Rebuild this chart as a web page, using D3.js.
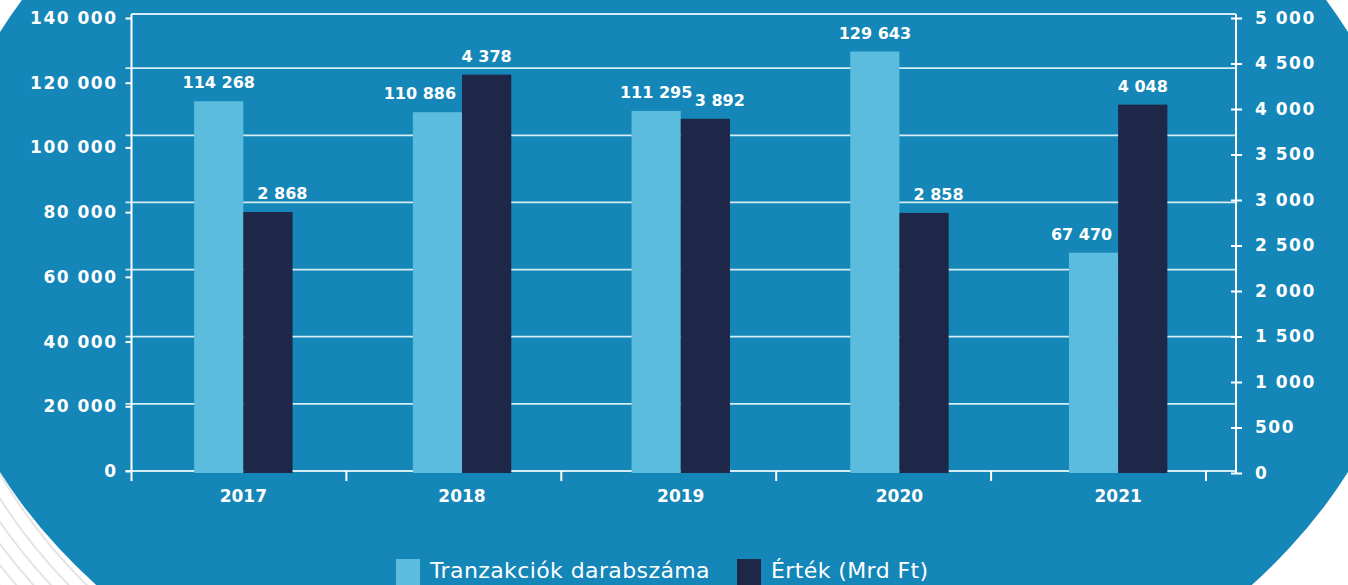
<!DOCTYPE html>
<html>
<head>
<meta charset="utf-8">
<script src="https://cdn.jsdelivr.net/npm/d3@7"></script>
<style>
  html, body { margin: 0; padding: 0; background: #fff; }
  svg { display: block; }
  text { fill: #fff; }
</style>
</head>
<body>
<div id="chart"></div>
<script>
const years = ["2017", "2018", "2019", "2020", "2021"];
const tranzakciok = [114268, 110886, 111295, 129643, 67470];
const ertek = [2868, 4378, 3892, 2858, 4048];
const leftTicks = [0, 20000, 40000, 60000, 80000, 100000, 120000, 140000];
const rightTicks = [0, 500, 1000, 1500, 2000, 2500, 3000, 3500, 4000, 4500, 5000];
const seriesNames = ["Tranzakciók darabszáma", "Érték (Mrd Ft)"];

const w = 1348;
const h = 585;
const blue = "#1486b7";
const light = "#5bbcdd";
const dark = "#1f2749";
const plotLeft = 131.5;
const plotRight = 1236;
const plotTop = 14;
const gridStep = 20750;
const boldFont = "'DejaVu Sans', sans-serif";

const hu = d3.formatLocale({ decimal: ",", thousands: "\u00a0", grouping: [3], currency: ["", ""] });
const fmt = hu.format(",");

const svg = d3
  .select("#chart")
  .append("svg")
  .attr("width", w)
  .attr("height", h);

// background: big blue ellipse, thin grey rings bottom left
const cx = 674, cy = 252, rx = 740, ry = 533;
svg.append("rect").attr("width", w).attr("height", h).attr("fill", "#fff");
svg.append("clipPath").attr("id", "corner")
  .append("rect").attr("x", 0).attr("y", 430).attr("width", 200).attr("height", 155);
svg.append("g")
  .attr("clip-path", "url(#corner)")
  .selectAll("ellipse")
  .data(d3.range(1, 9))
  .enter()
  .append("ellipse")
  .attr("cx", cx + 20)
  .attr("cy", cy + 10)
  .attr("rx", (d) => rx + d * 13)
  .attr("ry", (d) => ry + d * 13)
  .attr("fill", "none")
  .attr("stroke", "#e4e4e4")
  .attr("stroke-width", 2);
svg.append("ellipse")
  .attr("cx", cx).attr("cy", cy).attr("rx", rx).attr("ry", ry)
  .attr("fill", blue);

const yLeft = d3.scaleLinear().domain([0, 140000]).range([471, 18]);
const yRight = d3.scaleLinear().domain([0, 5000]).range([473, 18]);

const x0 = d3
  .scaleBand()
  .domain(years)
  .range([134, 1227.5])
  .paddingInner(0.55)
  .paddingOuter(0.275);
const x1 = d3.scaleBand().domain([0, 1]).range([0, x0.bandwidth()]);
const xTick = d3.scaleLinear().domain([0, 5]).range([plotLeft, 1206]);

// grid
const grid = svg.append("g").attr("stroke", "#d6ecf5").attr("stroke-width", 1.8);
grid
  .selectAll("line.h")
  .data(d3.range(0, 140000, gridStep))
  .enter()
  .append("line")
  .attr("x1", plotLeft - 6)
  .attr("x2", plotRight)
  .attr("y1", (d) => yLeft(d))
  .attr("y2", (d) => yLeft(d));
grid.append("line")
  .attr("x1", plotLeft).attr("x2", plotRight)
  .attr("y1", plotTop).attr("y2", plotTop);

// x ticks
svg
  .append("g")
  .selectAll("line")
  .data(d3.range(1, 6))
  .enter()
  .append("line")
  .attr("x1", (d) => xTick(d))
  .attr("x2", (d) => xTick(d))
  .attr("y1", yLeft(0))
  .attr("y2", yLeft(0) + 10)
  .attr("stroke", "#fff")
  .attr("stroke-width", 2);

// bars
const groups = svg
  .append("g")
  .selectAll("g")
  .data(years)
  .enter()
  .append("g")
  .attr("transform", (d) => `translate(${x0(d)},0)`);

groups
  .append("rect")
  .attr("x", x1(0))
  .attr("width", x1.bandwidth())
  .attr("y", (d, i) => yLeft(tranzakciok[i]))
  .attr("height", (d, i) => yLeft(0) - yLeft(tranzakciok[i]) + 2)
  .attr("fill", light);

groups
  .append("rect")
  .attr("x", x1(1))
  .attr("width", x1.bandwidth())
  .attr("y", (d, i) => yRight(ertek[i]))
  .attr("height", (d, i) => yRight(0) - yRight(ertek[i]))
  .attr("fill", dark);

// value labels
const gap = 13;
groups
  .append("text")
  .attr("font-family", boldFont)
  .attr("font-weight", "bold")
  .attr("font-size", 16)
  .each(function (d, i) {
    const base = yLeft(tranzakciok[i]) - gap;
    const blocked = yRight(ertek[i]) < base;
    d3.select(this)
      .attr("y", base)
      .attr("x", blocked ? x1(0) + x1.bandwidth() - 6 : x1(0) + x1.bandwidth() / 2)
      .attr("text-anchor", blocked ? "end" : "middle");
  })
  .text((d, i) => fmt(tranzakciok[i]));

groups
  .append("text")
  .attr("font-family", boldFont)
  .attr("font-weight", "bold")
  .attr("font-size", 16)
  .each(function (d, i) {
    const base = yRight(ertek[i]) - gap;
    const blocked = yLeft(tranzakciok[i]) < base + 8;
    d3.select(this)
      .attr("y", base)
      .attr("x", blocked ? x1(1) + 14 : x1(1) + x1.bandwidth() / 2)
      .attr("text-anchor", blocked ? "start" : "middle");
  })
  .text((d, i) => fmt(ertek[i]));

// year labels
groups
  .append("text")
  .attr("x", x0.bandwidth() / 2)
  .attr("y", 502)
  .attr("text-anchor", "middle")
  .attr("font-family", boldFont)
  .attr("font-weight", "bold")
  .attr("font-size", 17)
  .text((d) => d);

// axes
const leftAxis = svg
  .append("g")
  .attr("transform", `translate(${plotLeft},0)`)
  .call(d3.axisLeft(yLeft).tickValues(leftTicks).tickFormat(fmt).tickSize(6).tickPadding(8));
const rightAxis = svg
  .append("g")
  .attr("transform", `translate(${plotRight},0)`)
  .call(d3.axisRight(yRight).tickValues(rightTicks).tickFormat(fmt).tickSize(6).tickPadding(13));

[leftAxis, rightAxis].forEach((a) => {
  a.select(".domain").remove();
  a.selectAll("line").attr("stroke", "#fff").attr("stroke-width", 2);
  a.selectAll("text")
    .attr("fill", "#fff")
    .attr("font-family", boldFont)
    .attr("font-weight", "bold")
    .attr("font-size", 17)
    .attr("letter-spacing", 1.5);
});
rightAxis.selectAll(".tick line").attr("x1", -5);

leftAxis.append("line")
  .attr("y1", plotTop).attr("y2", yLeft(0) + 10)
  .attr("stroke", "#fff").attr("stroke-width", 2);
rightAxis.append("line")
  .attr("y1", plotTop).attr("y2", yRight(0))
  .attr("stroke", "#fff").attr("stroke-width", 2);

// legend
const legend = svg.append("g").attr("transform", "translate(396,559)");
const legendX = [0, 341];
const item = legend
  .selectAll("g")
  .data(seriesNames)
  .enter()
  .append("g")
  .attr("transform", (d, i) => `translate(${legendX[i]},0)`);
item
  .append("rect")
  .attr("width", 24)
  .attr("height", 26)
  .attr("fill", (d, i) => (i === 0 ? light : dark));
item
  .append("text")
  .attr("x", 34)
  .attr("y", 19)
  .attr("font-family", "'DejaVu Sans', sans-serif")
  .attr("font-size", 22)
  .attr("letter-spacing", 0.4)
  .text((d) => d);
</script>
</body>
</html>
